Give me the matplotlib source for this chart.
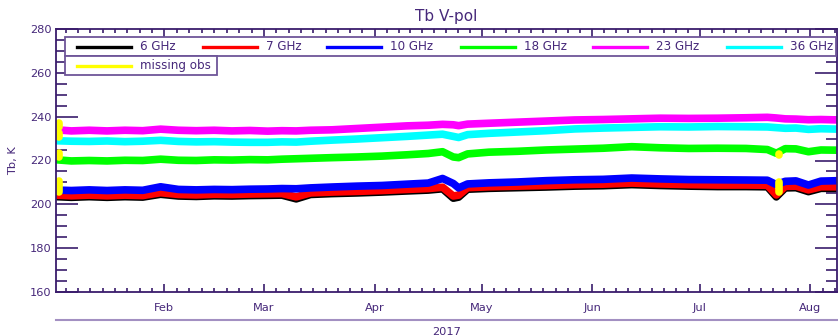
import numpy as np
import pandas as pd
import matplotlib
matplotlib.use('Agg')
import matplotlib.pyplot as plt
import matplotlib.dates as mdates
from matplotlib.patches import Rectangle
from matplotlib.lines import Line2D

# day of year 2017 (0 = Jan 1) and brightness temperatures
days = [1, 5, 10, 15, 20, 25, 30, 35, 40, 45, 50, 55, 60, 64, 68, 72, 78, 85, 92, 99,
        105, 109, 112, 113.5, 116, 122, 130, 138, 146, 154, 162, 170, 178, 186, 194, 200,
        202.5, 205, 208, 211.5, 215, 220]

tb_6 = [203.5, 203.2, 203.5, 203.2, 203.5, 203.3, 204.6, 203.8, 203.6, 203.9, 203.8, 204.0,
        204.1, 204.2, 202.5, 204.5, 204.9, 205.2, 205.6, 206.1, 206.5, 207.1, 202.8, 203.3,
        206.9, 207.3, 207.6, 207.9, 208.3, 208.5, 209.0, 208.6, 208.3, 208.1, 208.1, 208.0,
        203.4, 207.5, 207.6, 205.8, 207.3, 207.3]
tb_7 = [204.2, 203.9, 204.2, 203.9, 204.2, 204.0, 205.3, 204.5, 204.3, 204.6, 204.5, 204.7,
        204.8, 204.9, 203.4, 205.2, 205.6, 205.9, 206.3, 206.8, 207.2, 207.8, 203.8, 204.2,
        207.6, 208.0, 208.3, 208.6, 209.0, 209.2, 209.7, 209.3, 209.0, 208.8, 208.8, 208.7,
        204.3, 208.2, 208.3, 206.6, 208.0, 208.0]
tb_10 = [206.5, 206.3, 206.6, 206.3, 206.6, 206.4, 208.0, 206.8, 206.6, 206.8, 206.7, 206.9,
         207.0, 207.2, 207.1, 207.5, 207.9, 208.3, 208.6, 209.2, 209.7, 211.8, 209.5, 207.5,
         209.3, 209.8, 210.2, 210.8, 211.2, 211.4, 212.0, 211.6, 211.3, 211.2, 211.1, 211.0,
         209.0, 210.5, 210.7, 208.8, 210.6, 210.8]
tb_18 = [220.3, 219.8, 220.0, 219.8, 220.1, 220.0, 220.6, 220.1, 220.0, 220.3, 220.2, 220.4,
         220.3, 220.6, 220.8, 221.0, 221.3, 221.6, 222.0, 222.6, 223.2, 224.0, 221.6, 221.3,
         223.0, 223.8, 224.2, 224.8, 225.2, 225.6, 226.3, 225.8, 225.5, 225.6, 225.5, 225.0,
         223.3, 225.4, 225.3, 224.0, 224.8, 224.7]
tb_23 = [234.0, 233.5, 233.8, 233.5, 233.8, 233.6, 234.3, 233.8, 233.6, 233.8, 233.5, 233.7,
         233.4, 233.6, 233.5, 233.8, 234.0, 234.6, 235.2, 235.8, 236.1, 236.5, 236.3, 235.9,
         236.6, 237.0, 237.5, 238.0, 238.5, 238.7, 239.0, 239.3, 239.2, 239.3, 239.5, 239.7,
         239.4, 239.0, 238.9, 238.6, 238.7, 238.5]
tb_36 = [229.0, 228.8, 228.7, 228.9, 228.6, 228.8, 229.2, 228.7, 228.5, 228.6, 228.4, 228.3,
         228.3, 228.5, 228.4, 228.8, 229.3, 229.8, 230.4, 231.0, 231.6, 232.0, 231.0, 230.5,
         231.8, 232.4, 233.0, 233.6, 234.4, 234.8, 235.1, 235.4, 235.3, 235.5, 235.4, 235.3,
         235.0, 234.7, 234.8, 234.2, 234.5, 234.3]

# missing observations (day, top, bottom)
miss_day = [1.6, 1.6, 1.6, 1.6, 203.3, 203.3, 203.3, 203.3]
miss_top = [237.0, 232.6, 223.6, 210.6, 236.3, 231.7, 222.9, 210.1]
miss_bot = [235.2, 230.6, 221.8, 205.8, 236.1, 231.5, 222.7, 205.6]

labels = ['6 GHz', '7 GHz', '10 GHz', '18 GHz', '23 GHz', '36 GHz']
colors = ['#000000', '#ff0000', '#0000ff', '#00ff00', '#ff00ff', '#00ffff']
series = [tb_6, tb_7, tb_10, tb_18, tb_23, tb_36]

TXT = '#46287a'
AX = '#3a1c6c'
BOX = '#6e5599'

W, H = 838, 336
base = mdates.date2num(pd.Timestamp('2017-01-01'))


def to_date(d):
    # day offset -> matplotlib date number
    return base + np.asarray(d, dtype=float)


def px(x, y):
    return x / W, 1 - y / H


fig = plt.figure(figsize=(W / 100, H / 100), dpi=100)
ax = fig.add_axes([56 / W, 1 - 292 / H, (837 - 56) / W, (292 - 29) / H])

for vals, c in zip(series, colors):
    ax.plot(to_date(days), vals, color=c, lw=5.5, solid_capstyle='round',
            solid_joinstyle='round')

for d, t, b in zip(miss_day, miss_top, miss_bot):
    ax.plot(to_date([d, d]), [t, b], color='#ffff00', lw=5.5, solid_capstyle='round')

# axes styling
for s in ax.spines.values():
    s.set_color(AX)
    s.set_linewidth(1.3)

ax.set_yticks(range(160, 281, 20))
ax.set_yticks(range(160, 281, 5), minor=True)
ax.tick_params(axis='y', which='major', direction='in', length=16, width=1.2,
               color=AX, labelcolor=TXT, labelsize=8.2, pad=3, right=True)
ax.tick_params(axis='y', which='minor', direction='in', length=8, width=1.2,
               color=AX, right=True)

month_starts = pd.date_range('2017-01-01', '2017-09-01', freq='MS')
mnum = mdates.date2num(month_starts)
minor = []
for a, b in zip(mnum[:-1], mnum[1:]):
    n = int(round((b - a) / 3.45))
    minor += list(np.linspace(a, b, n + 1)[1:-1])
ax.set_xticks(mnum[1:8])
ax.set_xticklabels([m.strftime('%b') for m in month_starts[1:8]])
ax.set_xticks(minor, minor=True)
ax.tick_params(axis='x', which='major', direction='in', length=6, width=1.2,
               color=AX, labelcolor=TXT, labelsize=8.2, pad=8, top=True)
ax.tick_params(axis='x', which='minor', direction='in', length=3, width=1.2,
               color=AX, top=True)

# limits last, so the tick lists do not widen them
ax.set_ylim(160, 280)
ax.set_xlim(to_date(0.7), to_date(219.5))

ax.set_ylabel('Tb, K', color=TXT, fontsize=8.2, labelpad=9)
fig.text(*px(446, 16), 'Tb V-pol', color=TXT, fontsize=11, ha='center', va='center')

# year axis under the months
fig.add_artist(Line2D([56 / W, 1], [1 - 320 / H] * 2, color='#a390c2', lw=1.5))
fig.text(*px(447, 327), '2017', color=TXT, fontsize=8.2, ha='center', va='top')

# legend boxes
x0, y0 = px(65, 56)
fig.add_artist(Rectangle((x0, y0), (836 - 65) / W, 19 / H, transform=fig.transFigure,
                         facecolor='white', edgecolor=BOX, lw=1.3, zorder=5))
x0, y0 = px(65, 75)
fig.add_artist(Rectangle((x0, y0), (217 - 65) / W, 19 / H, transform=fig.transFigure,
                         facecolor='white', edgecolor=BOX, lw=1.3, zorder=5))

starts = [77, 203, 327, 461, 593, 727]
for xs, lab, c in zip(starts, labels, colors):
    (a, yy), (b, _) = px(xs, 47), px(xs + 54, 47)
    fig.add_artist(Line2D([a, b], [yy, yy], color=c, lw=2.4, zorder=6))
    fig.text(*px(xs + 63, 46.5), lab, color=TXT, fontsize=8.6, va='center', zorder=6)
(a, yy), (b, _) = px(77, 66), px(131, 66)
fig.add_artist(Line2D([a, b], [yy, yy], color='#ffff00', lw=2.4, zorder=6))
fig.text(*px(140, 65.5), 'missing obs', color=TXT, fontsize=8.6, va='center', zorder=6)

fig.savefig('out.png', dpi=100)
